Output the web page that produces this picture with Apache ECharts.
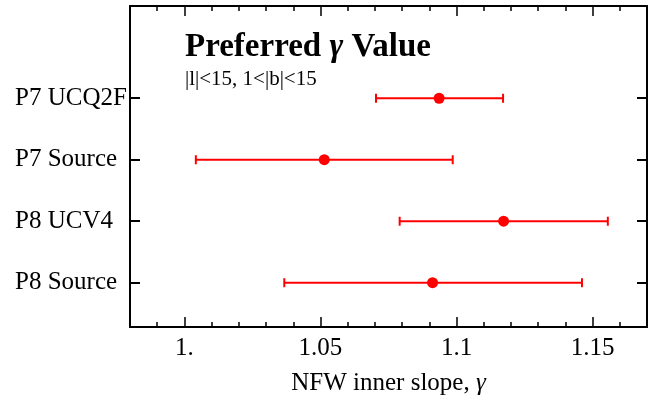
<!DOCTYPE html>
<html>
<head>
    <meta charset="utf-8">
    <title>Preferred gamma</title>
    <script src="https://cdn.jsdelivr.net/npm/echarts@6/dist/echarts.min.js"></script>
    <style>
        html, body { margin: 0; padding: 0; background: #fff; }
    </style>
</head>
<body>
<div id="chart1" style="width:657px;height:398px;"></div>
<script type="text/javascript">
    // 数据
    var categories = ['P8 Source', 'P8 UCV4', 'P7 Source', 'P7 UCQ2F'];
    var rowPos = [1, 2, 3, 4];
    var centers = [1.0912, 1.1173, 1.0514, 1.0936];
    var lows = [1.0367, 1.0791, 1.0042, 1.0704];
    var highs = [1.1461, 1.1556, 1.0986, 1.1171];

    var majorTicks = [1.0, 1.05, 1.1, 1.15];
    var majorLabels = ['1.', '1.05', '1.1', '1.15'];
    var minorTicks = [0.98, 0.99, 1.0, 1.01, 1.02, 1.03, 1.04, 1.05, 1.06, 1.07, 1.08, 1.09,
        1.1, 1.11, 1.12, 1.13, 1.14, 1.15, 1.16, 1.17];

    var font = 'Liberation Serif';
    var lineStyle = { color: '#000', width: 2 };

    var myChart1 = echarts.init(document.getElementById('chart1'));

    function xAxisDef(pos, ticks, len, showLine, showLabel) {
        return {
            type: 'value', position: pos, min: 0.98, max: 1.17,
            axisLine: { show: showLine, onZero: false, lineStyle: lineStyle },
            axisTick: { show: true, inside: true, length: len, customValues: ticks, lineStyle: { color: '#000', width: 1.5 } },
            axisLabel: {
                show: showLabel, customValues: majorTicks, margin: 9,
                fontFamily: font, fontSize: 25, color: '#000',
                formatter: function (v) {
                    for (var i = 0; i < majorTicks.length; i++) {
                        if (Math.abs(v - majorTicks[i]) < 1e-6) return majorLabels[i];
                    }
                    return '';
                }
            },
            splitLine: { show: false }
        };
    }

    var bottomMain = xAxisDef('bottom', majorTicks, 10, true, true);
    bottomMain.name = 'NFW inner slope, {i|γ}';
    bottomMain.nameLocation = 'middle';
    bottomMain.nameGap = 44;
    bottomMain.nameTextStyle = {
        fontFamily: font, fontSize: 25, color: '#000',
        rich: { i: { fontFamily: font, fontSize: 25, fontStyle: 'italic', color: '#000' } }
    };

    function yAxisDef(pos, showLabel) {
        return {
            type: 'value', position: pos, min: 0.28, max: 5.5,
            axisLine: { show: true, onZero: false, lineStyle: lineStyle },
            axisTick: { show: true, inside: true, length: 10, customValues: rowPos, lineStyle: { color: '#000', width: 2 } },
            axisLabel: {
                show: showLabel, customValues: rowPos, align: 'left', margin: 115,
                fontFamily: font, fontSize: 25, color: '#000',
                formatter: function (v) { return categories[Math.round(v) - 1] || ''; }
            },
            splitLine: { show: false }
        };
    }

    var pointData = centers.map(function (c, i) { return [c, rowPos[i]]; });
    var barData = centers.map(function (c, i) { return [lows[i], highs[i], rowPos[i]]; });

    myChart1.setOption({
        animation: false,
        title: [{
            text: '{b|Preferred }{g|γ}{b| Value}',
            left: 180, top: 26,
            textStyle: {
                rich: {
                    b: { fontFamily: font, fontSize: 33, fontWeight: 'bold', color: '#000' },
                    g: { fontFamily: font, fontSize: 33, fontWeight: 'bold', fontStyle: 'italic', color: '#000' }
                }
            }
        }, {
            text: '|l|<15, 1<|b|<15',
            left: 180, top: 64,
            textStyle: { fontFamily: font, fontSize: 21, fontWeight: 'normal', color: '#000' }
        }],
        grid: { left: 130, right: 10, top: 6, bottom: 71, outerBoundsMode: 'none', containLabel: false },
        xAxis: [
            bottomMain,
            xAxisDef('bottom', minorTicks, 5, false, false),
            xAxisDef('top', majorTicks, 10, true, false),
            xAxisDef('top', minorTicks, 5, false, false)
        ],
        yAxis: [yAxisDef('left', true), yAxisDef('right', false)],
        series: [{
            type: 'custom',
            xAxisIndex: 0, yAxisIndex: 0,
            data: barData,
            renderItem: function (params, api) {
                var y = api.value(2);
                var p1 = api.coord([api.value(0), y]);
                var p2 = api.coord([api.value(1), y]);
                var h = 4.5;
                var st = { stroke: '#ff0000', lineWidth: 2 };
                return {
                    type: 'group',
                    children: [
                        { type: 'line', shape: { x1: p1[0], y1: p1[1], x2: p2[0], y2: p2[1] }, style: st },
                        { type: 'line', shape: { x1: p1[0], y1: p1[1] - h, x2: p1[0], y2: p1[1] + h }, style: st },
                        { type: 'line', shape: { x1: p2[0], y1: p2[1] - h, x2: p2[0], y2: p2[1] + h }, style: st }
                    ]
                };
            },
            z: 2
        }, {
            type: 'scatter',
            xAxisIndex: 0, yAxisIndex: 0,
            symbol: 'circle', symbolSize: 11,
            itemStyle: { color: '#ff0000', opacity: 1 },
            data: pointData,
            z: 3
        }]
    });
</script>
</body>
</html>
